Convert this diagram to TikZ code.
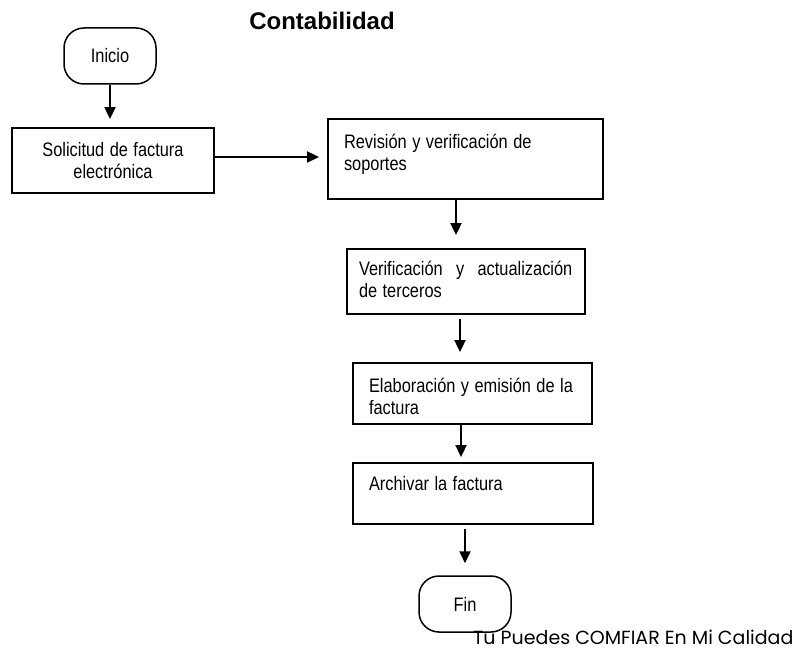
\documentclass[tikz,border=0pt]{standalone}
\usepackage{fontspec}
\setmainfont{Liberation Sans}
\newfontfamily\lemafont{Poppins}
\usetikzlibrary{positioning,arrows.meta}
\newcommand{\angosto}[1]{\scalebox{0.84}[1]{#1}}
\tikzset{
 term/.style
  = {rectangle, draw, rounded corners=20pt, line width=1.5pt, minimum width=92pt,
     minimum height=56pt, font=\fontsize{19.5}{22}\selectfont},
 b/.style
  = {rectangle, draw, line width=1.8pt, align=left, inner xsep=16pt, inner ysep=0pt,
     font=\fontsize{19.5}{22}\selectfont},
 l/.style
  = {draw, -{Triangle[width=11pt,length=12pt]}, line width=1.8pt},
 lema/.style
  = {anchor=base west, inner sep=0pt, font=\lemafont\fontsize{19}{22}\selectfont}
}

\begin{document}
\begin{tikzpicture}[x=1pt, y=-1pt]
    \useasboundingbox [fill=white] (0,0) rectangle (804,650);
    \node [font=\bfseries\fontsize{24}{28}\selectfont] (titulo) at (322,20.5) {Contabilidad};
    \node [term] (inicio) at (110,56) {\angosto{Inicio}};
    \node [b, align=center, text width=170pt, minimum width=202pt, minimum height=65pt] (solicitud) at (113,160.5) {\angosto{Solicitud de factura}\\ \angosto{electrónica}};
    \node [b, text width=243pt, text height=30pt, text depth=50pt] (revision) at (465.5,159) {\angosto{Revisión y verificación de}\\ \angosto{soportes}};
    \node [b, inner xsep=12pt, text width=214pt, text height=27pt, text depth=38pt] (terceros) at (466,281.5) {\angosto{\makebox[254pt][l]{Verificación\hfill y\hfill actualización}}\\ \angosto{de terceros}};
    \node [b, text width=207pt, text height=29pt, text depth=32pt] (emision) at (472.5,393.5) {\angosto{Elaboración y emisión de la}\\ \angosto{factura}};
    \node [b, text width=208pt, text height=27pt, text depth=34pt] (archivo) at (473,493.5) {\angosto{Archivar la factura}};
    \node [term] (fin) at (465,604) {\angosto{Fin}};
    \node [lema] (eslogan) at (473,644) {Tu Puedes COMFIAR En Mi Calidad};

    \path [l, shorten >=8pt] (inicio.south) -- (inicio.south |- solicitud.north);
    \path [l, shorten >=8pt] ([yshift=3.5pt]solicitud.east) -- ([yshift=3.5pt]solicitud.east -| revision.west);
    \path [l, shorten >=13pt] ([xshift=-9.5pt]revision.south) -- ([xshift=-9.5pt]revision.south |- terceros.north);
    \path [l, shorten <=4pt, shorten >=10pt] ([xshift=-6pt]terceros.south) -- ([xshift=-6pt]terceros.south |- emision.north);
    \path [l, shorten >=5pt] ([xshift=-11.5pt]emision.south) -- ([xshift=-11.5pt]emision.south |- archivo.north);
    \path [l, shorten <=4pt, shorten >=12pt] (archivo.south -| fin.north) -- (fin.north);

\end{tikzpicture}
\end{document}
